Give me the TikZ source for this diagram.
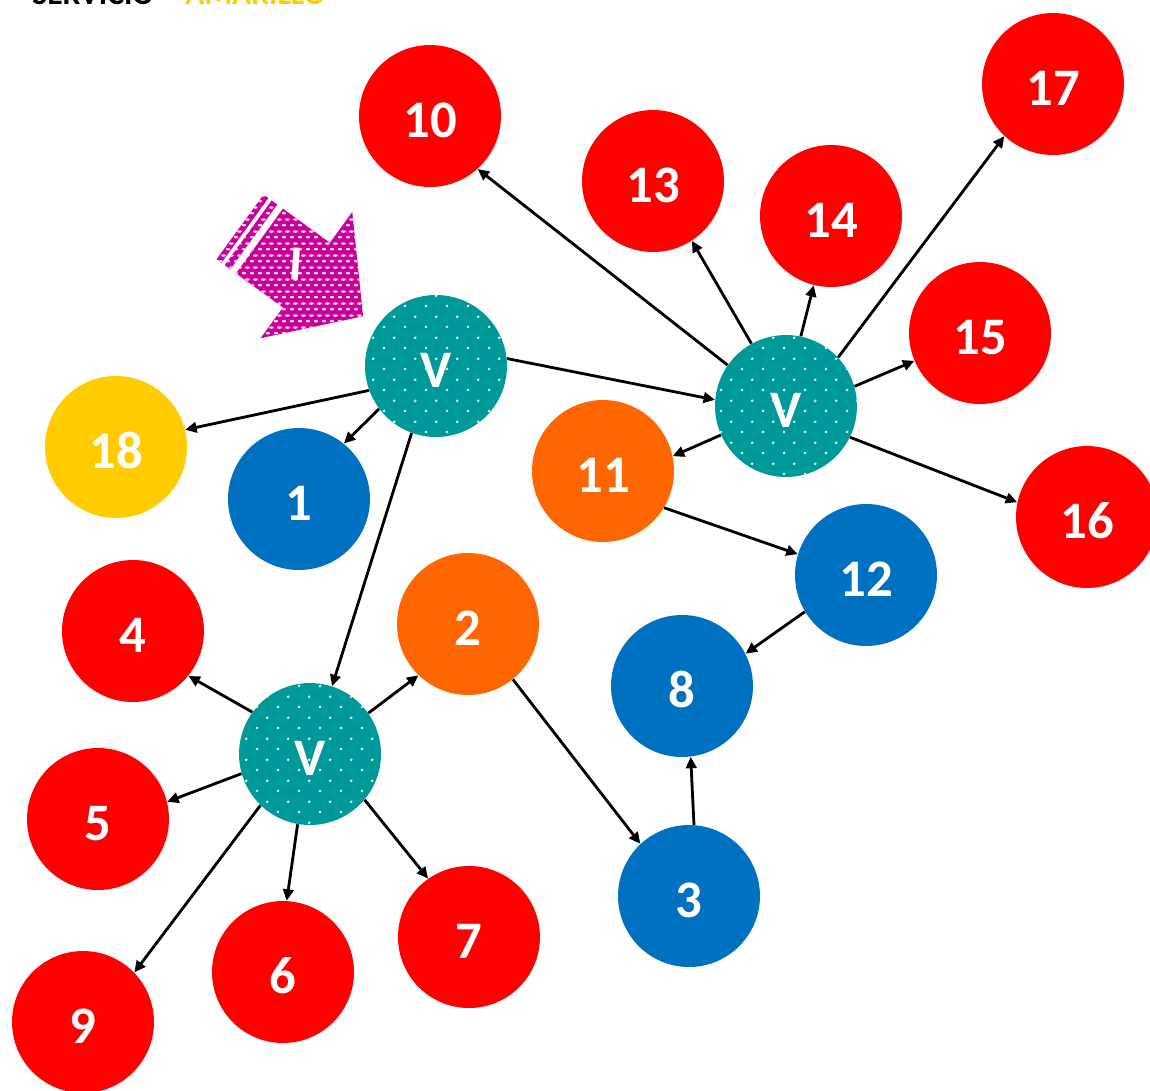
\documentclass[tikz,border=0pt]{standalone}
\usepackage{fontspec}
\setsansfont{Carlito}
\definecolor{ballred}{RGB}{255,0,0}
\definecolor{ballblue}{RGB}{0,112,192}
\definecolor{ballorange}{RGB}{255,102,0}
\definecolor{ballyellow}{RGB}{255,204,0}
\definecolor{ballteal}{RGB}{0,153,153}
\definecolor{arrowpink}{RGB}{204,0,153}
\usetikzlibrary{arrows.meta,patterns.meta}
\tikzdeclarepattern{
  name=tealdots, type=uncolored,
  bottom left={(0pt,0pt)}, top right={(12pt,12pt)}, tile size={(12pt,12pt)},
  code={\fill (3pt,3pt) circle (0.85pt); \fill (9pt,9pt) circle (0.85pt);}
}
\tikzdeclarepattern{
  name=pinkdots, type=uncolored,
  bottom left={(0pt,0pt)}, top right={(4.6pt,6.6pt)}, tile size={(4.6pt,6.6pt)},
  code={\fill (1.15pt,1.65pt) ellipse (1.5pt and 0.75pt);
        \fill (3.45pt,4.95pt) ellipse (1.5pt and 0.75pt);}
}
\tikzset{
  ball/.style={circle,minimum size=2.84cm,inner sep=0pt,text=white,
               text height=25pt,
               font=\sffamily\bfseries\fontsize{30}{36}\selectfont},
  redball/.style={ball,fill=ballred},
  blueball/.style={ball,fill=ballblue},
  orangeball/.style={ball,fill=ballorange},
  yellowball/.style={ball,fill=ballyellow},
  vball/.style={ball,fill=ballteal,
                postaction={pattern=tealdots,pattern color=white!90!ballteal}},
  arrow/.style={-{Triangle[length=6.5pt,width=6pt]},line width=1.6pt,black},
  title/.style={anchor=base west,inner sep=0pt,
                font=\sffamily\bfseries\fontsize{18}{22}\selectfont},
}
\begin{document}
\begin{tikzpicture}[x=0.02cm,y=-0.02cm]
    \useasboundingbox (0,0) rectangle (1150,1090);

    % Title (cut off at the top)
    \node[title] (title1) at (32,4) {SERVICIO};
    \node[title,text=ballyellow] (title2) at (185,4) {AMARILLO};

    % Incoming arrow
    \begin{scope}[shift={(259.5,241)},rotate=-36,x=0.02cm,y=0.02cm]
      \path[fill=arrowpink,postaction={pattern=pinkdots,pattern color=white!85!arrowpink}]
        (0,40) -- (58,40) -- (58,78) -- (128,0) -- (58,-78) -- (58,-40)
        -- (0,-40) -- cycle
        (-14,40) rectangle (-7,-40)
        (-24,40) rectangle (-18,-40);
    \end{scope}
    \node[text=white,rotate=-4,font=\sffamily\bfseries\fontsize{28}{34}\selectfont]
        (inlabel) at (296,264) {I};

    % Distribution nodes
    \node[vball] (v1) at (436,366) {V};
    \node[vball] (v2) at (786,406) {V};
    \node[vball] (v3) at (310,754) {V};

    % Numbered nodes
    \node[redball] (n10) at (430,116) {10};
    \node[redball] (n13) at (653,181) {13};
    \node[redball] (n14) at (831,216) {14};
    \node[redball] (n17) at (1053,84) {17};
    \node[redball] (n15) at (980,333) {15};
    \node[redball] (n16) at (1087,517) {16};
    \node[orangeball] (n11) at (603,471) {11};
    \node[blueball] (n12) at (866,575) {12};
    \node[blueball] (n8) at (682,686) {8};
    \node[blueball] (n3) at (689,896) {3};
    \node[yellowball] (n18) at (116,447) {18};
    \node[blueball] (n1) at (299,499) {1};
    \node[orangeball] (n2) at (468,624) {2};
    \node[redball] (n4) at (133,631) {4};
    \node[redball] (n5) at (98,819) {5};
    \node[redball] (n6) at (283,972) {6};
    \node[redball] (n7) at (469,937) {7};
    \node[redball] (n9) at (83,1022) {9};

    % Connectors
    \draw[arrow] (v1.6.5) -- (v2.175.4);
    \draw[arrow] (v1.200) -- (n18.14.8);
    \draw[arrow] (v1.217.8) -- (n1.51.2);
    \draw[arrow] (v1.250.3) -- (v3.72.8);
    \draw[arrow] (v2.145.4) -- (n10.-48.7);
    \draw[arrow] (v2.119.4) -- (n13.-57.5);
    \draw[arrow] (v2.78.7) -- (n14.256);
    \draw[arrow] (v2.43.4) -- (n17.227.7);
    \draw[arrow] (v2.16) -- (n15.203.6);
    \draw[arrow] (v2.-26.6) -- (n16.168);
    \draw[arrow] (v2.204.4) -- (n11.12.6);
    \draw[arrow] (n11.-31.4) -- (n12.163);
    \draw[arrow] (n12.211.5) -- (n8.27.3);
    \draw[arrow] (n3.86) -- (n8.-83.6);
    \draw[arrow] (n2.-51.5) -- (n3.133.8);
    \draw[arrow] (v3.35.2) -- (n2.226.6);
    \draw[arrow] (v3.144.7) -- (n4.-39.9);
    \draw[arrow] (v3.196) -- (n5.14.8);
    \draw[arrow] (v3.260) -- (n6.87);
    \draw[arrow] (v3.-40.3) -- (n7.125.5);
    \draw[arrow] (v3.226.7) -- (n9.44.4);

  \end{tikzpicture}
\end{document}
